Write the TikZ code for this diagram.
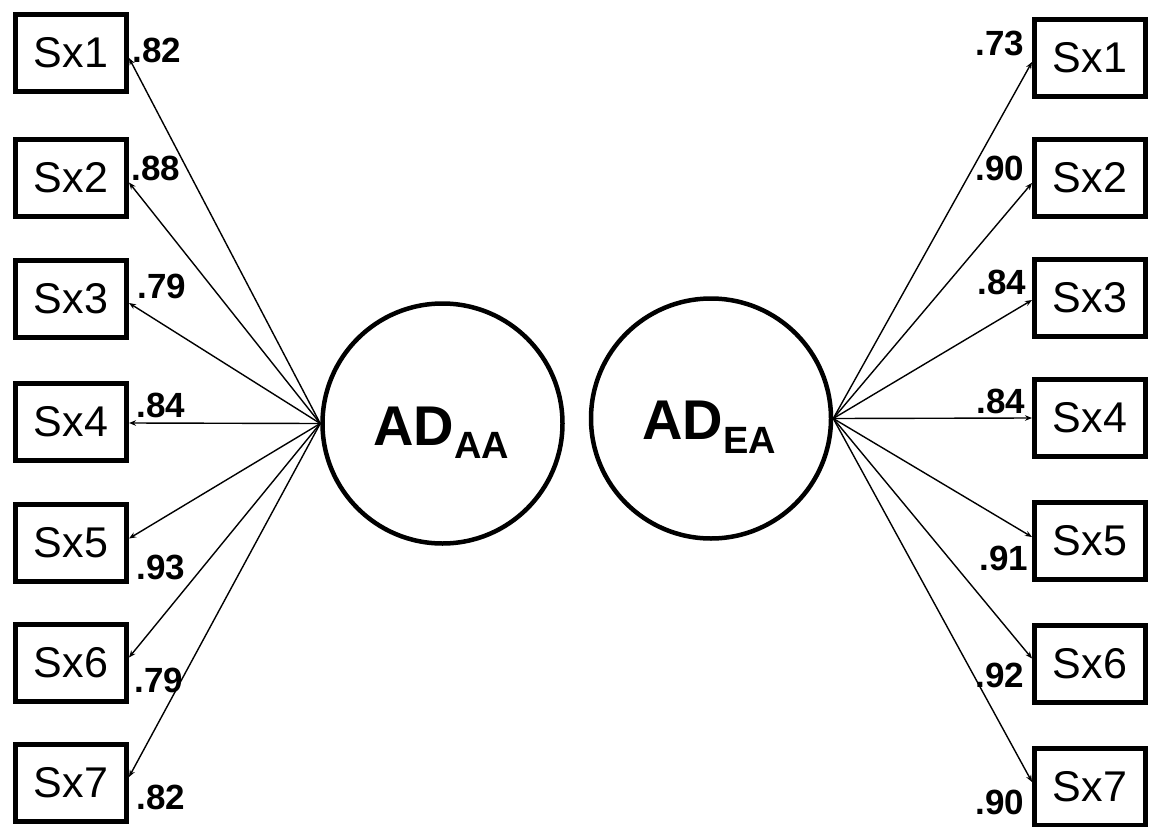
\documentclass[tikz,border=0pt]{standalone}
\usepackage{fontspec}
\setmainfont{Liberation Sans}
\usetikzlibrary{arrows.meta}
\begin{document}
\begin{tikzpicture}[x=1pt,y=-1pt,
  obs/.style={draw,line width=5pt,minimum width=111pt,minimum height=77pt,inner sep=0pt,
    font=\fontsize{43}{43}\selectfont},
  lat/.style={draw,circle,line width=4.5pt,minimum size=240pt,inner sep=0pt},
  latname/.style={inner sep=0pt,anchor=base west,font=\bfseries\fontsize{56}{56}\selectfont},
  load/.style={font=\bfseries\fontsize{35}{35}\selectfont,inner sep=0pt},
  lpath/.style={line width=1.4pt,-{Stealth[length=7pt,width=5.5pt]}}]
\useasboundingbox (0,0) rectangle (1149,827);
% latent variables
\node[lat] (la) at (442.5,423.5) {};
\node[lat] (ra) at (711,418.5) {};
\node[latname] (lat1) at (373,445) {AD\raisebox{-13pt}{\fontsize{38}{38}\selectfont AA}};
\node[latname] (lat2) at (642,439) {AD\raisebox{-14pt}{\fontsize{38}{38}\selectfont EA}};
% left indicators
\node[obs] (l1) at (71,53) {Sx1};
\node[obs] (l2) at (71,177.5) {Sx2};
\node[obs] (l3) at (71,299) {Sx3};
\node[obs] (l4) at (71,422) {Sx4};
\node[obs] (l5) at (71,542.5) {Sx5};
\node[obs] (l6) at (71,662.5) {Sx6};
\node[obs] (l7) at (71,783) {Sx7};
% right indicators
\node[obs] (r1) at (1090,58) {Sx1};
\node[obs] (r2) at (1090,178) {Sx2};
\node[obs] (r3) at (1090,298) {Sx3};
\node[obs] (r4) at (1090,418) {Sx4};
\node[obs] (r5) at (1090,541) {Sx5};
\node[obs] (r6) at (1090,663.5) {Sx6};
\node[obs] (r7) at (1090,787) {Sx7};
% left paths
\draw[lpath] (la.west) -- ([yshift=-5pt]l1.east);
\draw[lpath] (la.west) -- ([yshift=-5pt]l2.east);
\draw[lpath] (la.west) -- ([yshift=-4pt]l3.east);
\draw[lpath] (la.west) -- ([yshift=-1pt]l4.east);
\draw[lpath] (la.west) -- ([yshift=4pt]l5.east);
\draw[lpath] (la.west) -- ([yshift=5pt]l6.east);
\draw[lpath] (la.west) -- ([yshift=6pt]l7.east);
% right paths
\draw[lpath] (ra.east) -- ([yshift=-4pt]r1.west);
\draw[lpath] (ra.east) -- ([yshift=-5pt]r2.west);
\draw[lpath] (ra.east) -- ([yshift=-2pt]r3.west);
\draw[lpath] (ra.east) -- (r4.west);
\draw[lpath] (ra.east) -- ([yshift=4pt]r5.west);
\draw[lpath] (ra.east) -- ([yshift=5pt]r6.west);
\draw[lpath] (ra.east) -- ([yshift=5pt]r7.west);
% left loadings
\node[load] (a1) at (157,50) {.82};
\node[load] (a2) at (156,168) {.88};
\node[load] (a3) at (162,286) {.79};
\node[load] (a4) at (161,405) {.84};
\node[load] (a5) at (161,567) {.93};
\node[load] (a6) at (159,680) {.79};
\node[load] (a7) at (161,797) {.82};
% right loadings
\node[load] (b1) at (1000,43) {.73};
\node[load] (b2) at (1000,168) {.90};
\node[load] (b3) at (1002,282) {.84};
\node[load] (b4) at (1001,401) {.84};
\node[load] (b5) at (1004,558) {.91};
\node[load] (b6) at (1000,675) {.92};
\node[load] (b7) at (1000,802) {.90};
\end{tikzpicture}
\end{document}
